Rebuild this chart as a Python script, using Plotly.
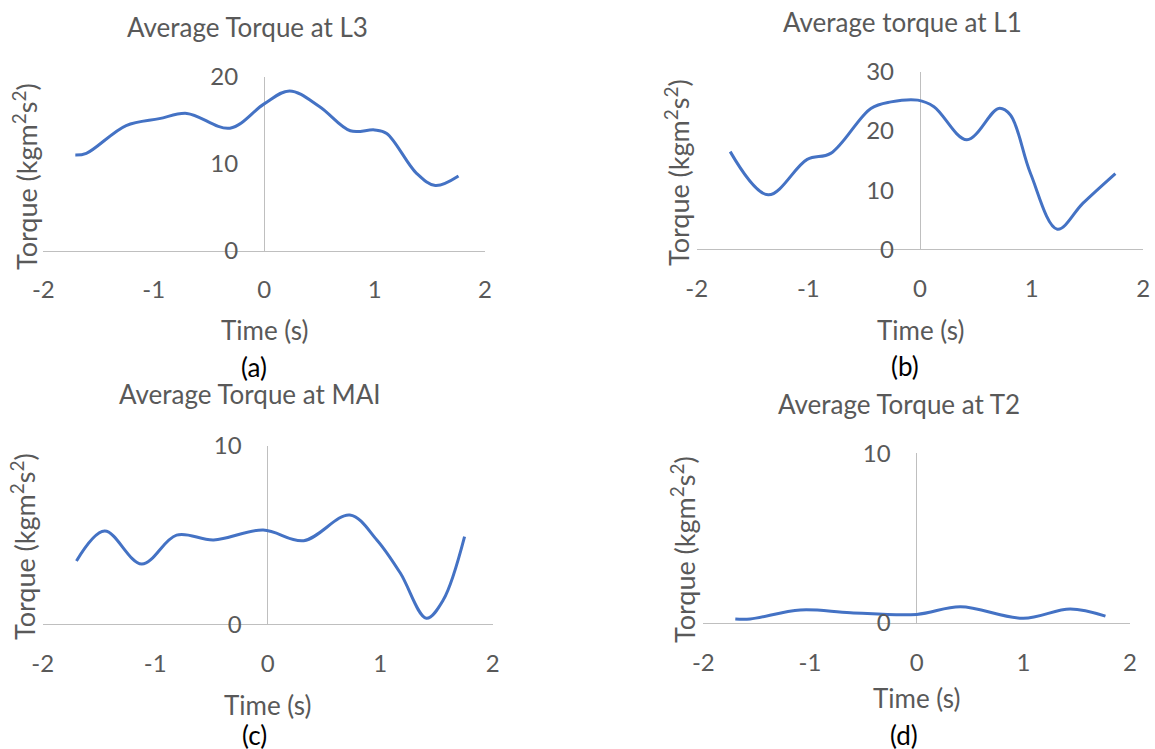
import plotly.graph_objects as go

W, H = 1155, 749

# ---- data ----
t_l3 = [-1.71, -1.61, -1.25, -0.95, -0.70, -0.31, 0.0, 0.23, 0.50, 0.78, 1.0, 1.11, 1.38, 1.55, 1.76]
y_l3 = [11.0, 11.2, 14.4, 15.2, 15.8, 14.1, 16.9, 18.4, 16.6, 13.8, 13.9, 13.5, 8.9, 7.5, 8.6]

t_l1 = [-1.70, -1.36, -1.01, -0.80, -0.44, -0.26, -0.02, 0.125, 0.42, 0.705, 0.81, 0.99, 1.23, 1.46, 1.75]
y_l1 = [16.5, 9.2, 15.2, 16.2, 23.8, 24.9, 25.2, 24.1, 18.5, 23.8, 22.7, 12.8, 3.4, 7.8, 12.8]

t_mai = [-1.70, -1.45, -1.12, -0.81, -0.48, -0.04, 0.32, 0.73, 0.97, 1.18, 1.41, 1.56, 1.75]
y_mai = [3.55, 5.23, 3.38, 5.0, 4.73, 5.29, 4.69, 6.13, 4.73, 2.86, 0.34, 1.36, 4.92]

t_t2 = [-1.70, -1.56, -1.09, -0.62, 0.0, 0.41, 1.0, 1.44, 1.77]
y_t2 = [0.22, 0.22, 0.75, 0.59, 0.49, 0.94, 0.26, 0.81, 0.39]

x_ticks = [-2, -1, 0, 1, 2]
x_ticktext = ["-2", "-1", "0", "1", "2"]
titles = ["Average Torque at L3", "Average torque at L1", "Average Torque at MAI", "Average Torque at T2"]
panel_labels = ["(a)", "(b)", "(c)", "(d)"]
y_ranges = [[0, 20], [0, 30], [0, 10], [0, 10]]
y_dticks = [10, 10, 10, 10]
x_title = "Time (s)"
y_title = "Torque (kgm<sup>2</sup>s<sup>2</sup>)"

series = [(t_l3, y_l3), (t_l1, y_l1), (t_mai, y_mai), (t_t2, y_t2)]

# ---- layout geometry (pixels) ----
xdom_px = [(43.3, 485), (696.7, 1143.3), (42.7, 492.7), (703.3, 1130)]
ydom_px = [(77, 250.5), (71.7, 249.3), (446, 624.3), (453.3, 622.7)]
title_px = [(247, 27), (902, 22), (250, 394), (899, 404)]
xtitle_px = [(264, 330), (920, 330), (267, 705), (916, 698)]
ytitle_px = [(25, 177), (677, 173), (23, 547), (683, 550)]
label_px = [(254, 367), (905, 366), (254, 735), (904, 735)]

FONT = "Lato"
TXT = "#595959"
LINE = "#BFBFBF"
BLUE = "#4472C4"
FS_TICK = 24
FS_TITLE = 26
FS_AXT = 26
FS_YT = 27
FS_LAB = 26

def px(x):
    return x / W

def py(y):
    return 1 - y / H

fig = go.Figure()
annotations = []
for i, (t, v) in enumerate(series):
    n = "" if i == 0 else str(i + 1)
    fig.add_trace(go.Scatter(x=t, y=v, mode="lines", line=dict(color=BLUE, width=3, shape="spline", smoothing=1.0),
                             xaxis="x" + n, yaxis="y" + n, showlegend=False, hoverinfo="skip"))
    x0, x1 = xdom_px[i]
    yt, yb = ydom_px[i]
    fig.layout["xaxis" + n] = dict(
        domain=[px(x0), px(x1)], range=[-2, 2], tickvals=x_ticks, ticktext=x_ticktext, anchor="y" + n,
        showline=True, linecolor=LINE, linewidth=1, showgrid=False, zeroline=True,
        zerolinecolor=LINE, zerolinewidth=1, ticks="", ticklabelstandoff=18, automargin=False,
        tickfont=dict(family=FONT, size=FS_TICK, color=TXT))
    fig.layout["yaxis" + n] = dict(
        domain=[py(yb), py(yt)], range=y_ranges[i], dtick=y_dticks[i], anchor="free",
        position=px((x0 + x1) / 2), showline=False, showgrid=False, zeroline=False,
        ticks="", ticklabelstandoff=26, automargin=False,
        tickfont=dict(family=FONT, size=FS_TICK, color=TXT))
    tx, ty = title_px[i]
    annotations.append(dict(text=titles[i], x=px(tx), y=py(ty), xref="paper", yref="paper",
                            showarrow=False, xanchor="center", yanchor="middle",
                            font=dict(family=FONT, size=FS_TITLE, color=TXT)))
    ax_, ay_ = xtitle_px[i]
    annotations.append(dict(text=x_title, x=px(ax_), y=py(ay_), xref="paper", yref="paper",
                            showarrow=False, xanchor="center", yanchor="middle",
                            font=dict(family=FONT, size=FS_AXT, color=TXT)))
    yx, yy = ytitle_px[i]
    annotations.append(dict(text=y_title, x=px(yx), y=py(yy), xref="paper", yref="paper",
                            showarrow=False, xanchor="center", yanchor="middle", textangle=-90,
                            font=dict(family=FONT, size=FS_YT, color=TXT)))
    lx, ly = label_px[i]
    annotations.append(dict(text=panel_labels[i], x=px(lx), y=py(ly), xref="paper", yref="paper",
                            showarrow=False, xanchor="center", yanchor="middle",
                            font=dict(family=FONT, size=FS_LAB, color="#000000")))

fig.update_layout(width=W, height=H, margin=dict(l=0, r=0, t=0, b=0, autoexpand=False),
                  template="none",
                  paper_bgcolor="white", plot_bgcolor="white", annotations=annotations,
                  showlegend=False)
fig.write_html("out.html", config={"displayModeBar": False},
               post_script="document.body.style.margin='0';document.body.style.overflow='hidden';")
